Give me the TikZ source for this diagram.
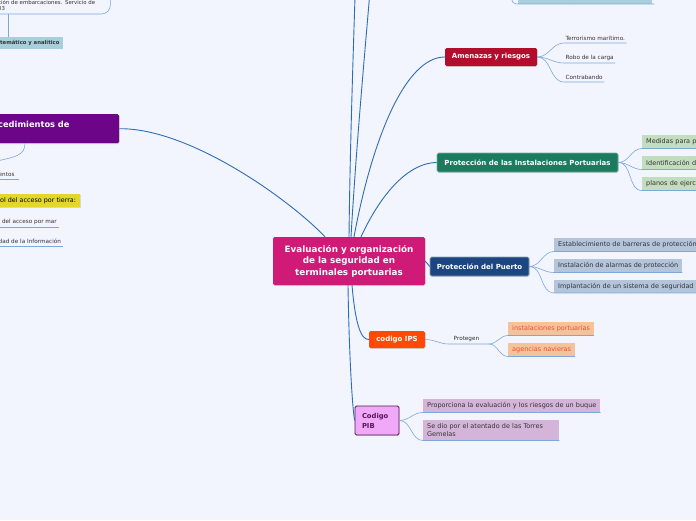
\documentclass[tikz,border=0pt]{standalone}
\usepackage{fontspec}
\setmainfont{DejaVu Sans}
\usetikzlibrary{shadows}
\definecolor{bg}{HTML}{F2F5FE}
\definecolor{mainln}{HTML}{2D6DB6}
\definecolor{subln}{HTML}{7EA8DC}
\definecolor{cmag}{HTML}{CF1A78}
\definecolor{cred}{HTML}{B20E2C}
\definecolor{cteal}{HTML}{1C7A5F}
\definecolor{cnavy}{HTML}{1B4680}
\definecolor{corange}{HTML}{FF4A05}
\definecolor{cpibf}{HTML}{EFA9F8}
\definecolor{cpibd}{HTML}{5A1456}
\definecolor{cpurple}{HTML}{6D0588}
\definecolor{cyellow}{HTML}{E4D62A}
\definecolor{cltblue}{HTML}{A7CFDC}
\definecolor{cgreen}{HTML}{C3DDBF}
\definecolor{cbgray}{HTML}{B4C5DB}
\definecolor{cpeach}{HTML}{F5C39B}
\definecolor{cpeacht}{HTML}{E8532A}
\definecolor{clilac}{HTML}{D4B5D9}
\definecolor{tgray}{HTML}{333333}
\begin{document}
\begin{tikzpicture}[x=1pt,y=-1pt,
  mainconn/.style={draw=mainln, line width=0.9pt},
  subconn/.style={draw=subln, line width=0.6pt},
  topic/.style={rounded corners=1.5pt, inner sep=0pt, text=white,
    font=\fontsize{7}{8.2}\selectfont\bfseries, align=center,
    drop shadow={shadow xshift=0.5pt, shadow yshift=-0.8pt, opacity=0.3}},
  leaf/.style={inner xsep=1.5pt, inner ysep=2pt, anchor=south west, text=tgray,
    font=\fontsize{5.7}{6.8}\selectfont},
  leafbox/.style={anchor=south west, inner xsep=4pt, inner ysep=0pt,
    minimum height=13pt, text=tgray, font=\fontsize{6.5}{7.6}\selectfont, align=left},
]
\fill[bg] (0,0) rectangle (696,520);
\useasboundingbox (0,0) rectangle (696,520);
\clip (0,0) rectangle (696,520);

% central topic
\node[topic, fill=cmag, minimum width=152pt, minimum height=48pt,
  font=\fontsize{8.8}{11.5}\selectfont\bfseries] (c) at (349,261)
  {Evaluación y organización\\de la seguridad en\\terminales portuarias};

% main topics
\node[topic, fill=cred, minimum width=92pt, minimum height=18pt] (am) at (491,57) {Amenazas y riesgos};
\node[topic, fill=cteal, draw=cteal!60!white, line width=0.6pt, minimum width=181pt, minimum height=19pt] (pip) at (527.5,162.5) {Protección de las Instalaciones Portuarias};
\node[topic, fill=cnavy, draw=cnavy!50!white, line width=0.6pt, minimum width=99pt, minimum height=19pt] (pu) at (479.5,266.5) {Protección del Puerto};
\node[topic, fill=corange, minimum width=56pt, minimum height=17pt] (ips) at (397,339.5) {codigo IPS};
\node[topic, fill=cpibf, draw=cpibd, line width=0.8pt, text=cpibd, minimum width=44pt, minimum height=29pt, text width=30pt, align=left,
  font=\fontsize{6.8}{10}\selectfont\bfseries] (pib) at (377,420.5) {Codigo\\PIB};
\node[topic, fill=cpurple, anchor=north west, minimum width=127pt, minimum height=29pt,
  text width=123pt, align=left, text height=5.8pt, text depth=8pt,
  font=\fontsize{8.3}{10}\selectfont\bfseries] (pr) at (-8,114) {\hspace*{4pt}cedimientos de};

% top partial elements
\node[leaf, anchor=south west, text width=110pt, inner xsep=2pt, inner ysep=3pt,
  font=\fontsize{5.4}{6}\selectfont, align=left] (tl) at (-4,14) {ción de embarcaciones. Servicio de\\03};
\draw[subconn, rounded corners=9pt] (tl.south west) -- (tl.south east) -- (tl.north east);
\node[leafbox, fill=cltblue, minimum height=12pt, font=\fontsize{5.3}{6.3}\selectfont\bfseries] (tm) at (-4,49.5) {temático y analítico};
\draw[subconn] ([xshift=12pt]tl.south west) -- ([xshift=12pt]tl.south west |- tm.north);

\node[leafbox, fill=cltblue, minimum width=134pt, minimum height=12pt, align=center,
  font=\fontsize{5.3}{6.3}\selectfont] (tr) at (518,4) {la normativa operativa de un elemento};
\coordinate (trin) at (511,-6);
\draw[subconn] (trin) .. controls (511,3) and (514,4) .. (tr.south west) -- ([xshift=2pt]tr.south east);

\coordinate (top1) at (355,-3);
\coordinate (top2) at (369.5,-3);

% main connectors
\draw[mainconn] (c.north) .. controls (350,150) and (353,60) .. (top1);
\draw[mainconn] ([xshift=2pt]c.north) .. controls (356,150) and (365,50) .. (top2);
\draw[mainconn] ([xshift=5pt]c.north) .. controls (372,140) and (405,57) .. (am.west);
\draw[mainconn] ([xshift=12pt]c.north) .. controls (378,200) and (405,163) .. (pip.west);
\draw[mainconn] (c.east) -- (pu.west);
\draw[mainconn] ([xshift=3pt]c.south) .. controls (355,320) and (360,340) .. (ips.west);
\draw[mainconn] ([xshift=-1pt]c.south) .. controls (349,350) and (352,405) .. (pib.west);
\draw[mainconn] ([xshift=-24pt]c.north) .. controls (290,200) and (190,128) .. (pr.east);

% Amenazas leaves
\node[leaf] (a1) at (564,43) {Terrorismo marítimo.};
\node[leaf] (a2) at (564,63) {Robo de la carga};
\node[leaf] (a3) at (564,82) {Contrabando};
\foreach \n in {a1,a2,a3}
  \draw[subconn] (am.east) to[out=0,in=180] (\n.south west) -- (\n.south east);

% PIP leaves
\node[leafbox, fill=cgreen, text width=70pt] (g1) at (642,148.5) {Medidas para p};
\node[leafbox, fill=cgreen, text width=70pt] (g2) at (642,169.5) {Identificación d};
\node[leafbox, fill=cgreen, text width=70pt] (g3) at (642,190.5) {planos de ejerc};
\foreach \n in {g1,g2,g3}
  \draw[subconn] (pip.east) to[out=0,in=180] (\n.south west) -- (\n.south east);

% Puerto leaves
\node[leafbox, fill=cbgray, text width=160pt] (b1) at (554,251.5) {Establecimiento de barreras de protección};
\node[leafbox, fill=cbgray] (b2) at (554,272.5) {Instalación de alarmas de protección};
\node[leafbox, fill=cbgray, text width=160pt] (b3) at (554,293) {Implantación de un sistema de seguridad};
\foreach \n in {b1,b2,b3}
  \draw[subconn] (pu.east) to[out=0,in=180] (\n.south west) -- (\n.south east);

% IPS
\node[leaf] (pg) at (449,344) {\hspace*{3pt}Protegen\hspace*{8pt}};
\draw[subconn] (ips.east) to[out=0,in=180] (pg.south west) -- (pg.south east);
\node[leafbox, fill=cpeach, text=cpeacht] (o1) at (508,335.5) {instalaciones portuarias};
\node[leafbox, fill=cpeach, text=cpeacht] (o2) at (508,356.5) {agencias navieras};
\foreach \n in {o1,o2}
  \draw[subconn] (pg.south east) to[out=0,in=180] (\n.south west) -- (\n.south east);

% PIB leaves
\node[leafbox, fill=clilac] (l1) at (423,412.5) {Proporciona la evaluación y los riesgos de un buque};
\node[leafbox, fill=clilac, minimum height=20pt, text width=128pt] (l2) at (423,440.5) {Se dio por el atentado de las Torres\\Gemelas};
\foreach \n in {l1,l2}
  \draw[subconn] (pib.east) to[out=0,in=180] (\n.south west) -- (\n.south east);

% left side leaves
\coordinate (pl) at (-3,161);
\draw[subconn] ([xshift=33pt]pr.south west) .. controls ([xshift=33pt,yshift=-12pt]pr.south west) and (15,157) .. (pl);
\node[leaf] (e1) at (-3,179) {entos\hspace*{3pt}};
\draw[subconn] (e1.south west) -- (e1.south east);
\node[leafbox, fill=cyellow, text=black, minimum height=13.5pt, font=\fontsize{6.4}{7.4}\selectfont,
  drop shadow={shadow xshift=0.5pt, shadow yshift=-0.8pt, opacity=0.25}] (y1) at (-4,207.5) {ol del acceso por tierra:};
\node[leaf] (e2) at (-3,227) {l del acceso por mar};
\draw[subconn] (e2.south west) -- (e2.south east);
\node[leaf] (e3) at (-3,246) {dad de la Información};
\draw[subconn] (e3.south west) -- (e3.south east);
\end{tikzpicture}
\end{document}
